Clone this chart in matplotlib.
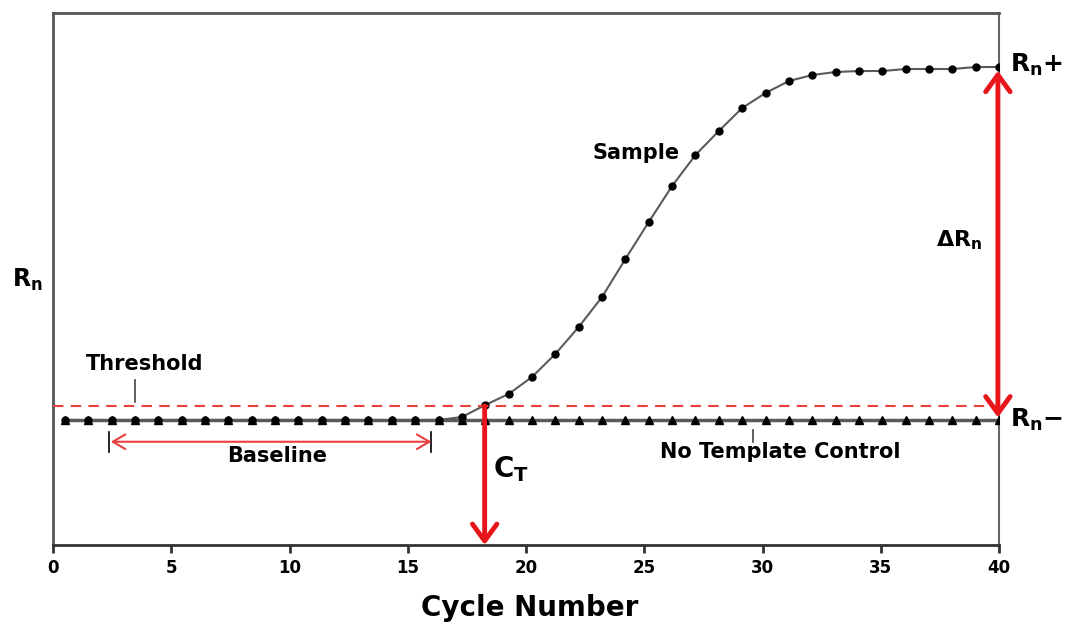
import numpy as np
import matplotlib
matplotlib.use("Agg")
import matplotlib.pyplot as plt

plt.rcParams['font.family'] = ['DejaVu Sans']
plt.rcParams['font.weight'] = 'bold'
plt.rcParams['mathtext.fontset'] = 'custom'
plt.rcParams['mathtext.rm'] = 'DejaVu Sans:bold'
plt.rcParams['mathtext.it'] = 'DejaVu Sans:bold'
plt.rcParams['mathtext.bf'] = 'DejaVu Sans:bold'

# cycle numbers 0..40
cycles = np.arange(41)
# sample fluorescence (arbitrary units, baseline = 1)
sample = [1.0, 1.0, 1.0, 1.0, 1.0, 1.0, 1.0, 1.0, 1.0, 1.0,
          1.0, 1.0, 1.0, 1.0, 1.0, 1.0, 1.0, 1.024, 1.12, 1.208,
          1.344, 1.528, 1.744, 1.984, 2.288, 2.584, 2.872, 3.12, 3.312, 3.496,
          3.616, 3.712, 3.76, 3.784, 3.792, 3.792, 3.808, 3.808, 3.808, 3.824,
          3.824]
# no template control stays flat at baseline
ntc = [1.0] * 41
threshold = 1.112
ct = 18.25
rn_minus = 1.0
rn_plus = 3.824

red = '#e8161b'
line_grey = '#5a5a5a'

fig = plt.figure(figsize=(10.65, 6.26), dpi=100)
ax = fig.add_axes([0.0498, 0.1294, 0.8883, 0.8498])

# markers in the drawing sit half a cycle in from the left edge
xpos = 0.5 + cycles * 39.5 / 40

ax.plot(xpos, ntc, color=line_grey, lw=2.5, marker='^', ms=6,
        mfc='black', mec='black', zorder=3)
ax.plot(xpos, sample, color=line_grey, lw=1.5, marker='o', ms=5,
        mfc='black', mec='black', zorder=4)

ax.axhline(threshold, color='#e8403a', lw=1.5, ls=(0, (5, 3.5)), zorder=5)

# threshold label and pointer
ax.text(3.86, 1.448, 'Threshold', fontsize=15, ha='center', va='center')
ax.plot([3.47, 3.47], [1.144, 1.32], color='#444444', lw=1.2)

# baseline range
ax.annotate('', xy=(2.44, 0.826), xytext=(16.0, 0.826),
            arrowprops=dict(arrowstyle='<->,head_length=0.6,head_width=0.35',
                            color='#e84040', lw=1.5, mutation_scale=15,
                            shrinkA=0, shrinkB=0))
for bx in [2.37, 16.0]:
    ax.plot([bx, bx], [0.744, 0.904], color='black', lw=1.2)
ax.text(9.49, 0.712, 'Baseline', fontsize=15, ha='center', va='center')

ax.text(30.76, 0.744, 'No Template Control', fontsize=15, ha='center', va='center')
ax.plot([29.58, 29.58], [0.824, 0.92], color='#444444', lw=1.2)

ax.text(24.66, 3.14, 'Sample', fontsize=15, ha='center', va='center')

# C_T arrow down to the axis
ax.annotate('', xy=(ct, 0.0), xytext=(ct, threshold),
            arrowprops=dict(arrowstyle='->,head_length=0.55,head_width=0.4',
                            color=red, lw=3.5, mutation_scale=22,
                            shrinkA=0, shrinkB=0), zorder=6)
ax.text(18.6, 0.61, r'C$_\mathregular{T}$', fontsize=20, ha='left', va='center')

# delta Rn arrow
ax.annotate('', xy=(39.95, rn_plus - 0.03), xytext=(39.95, rn_minus + 0.02),
            arrowprops=dict(arrowstyle='<->,head_length=0.55,head_width=0.4',
                            color=red, lw=3.5, mutation_scale=22,
                            shrinkA=0, shrinkB=0), zorder=6, annotation_clip=False)
ax.text(38.3, 2.44, r'$\Delta$R$_\mathregular{n}$', fontsize=16, ha='center', va='center')

ax.text(40.45, rn_plus + 0.02, r'R$_\mathregular{n}$+', fontsize=18, ha='left',
        va='center', clip_on=False)
ax.text(40.45, rn_minus, r'R$_\mathregular{n}$−', fontsize=18, ha='left',
        va='center', clip_on=False)
ax.text(-1.1, 2.12, r'R$_\mathregular{n}$', fontsize=17, ha='center',
        va='center', clip_on=False)

ax.set_xlim(0, 40)
ax.set_ylim(0, 4.256)
ax.set_xticks(range(0, 41, 5))
ax.set_yticks([])
ax.tick_params(axis='x', direction='out', length=6, width=2, color='#333333',
               labelsize=12, pad=4)
for lab in ax.get_xticklabels():
    lab.set_fontweight('bold')

ax.spines['top'].set_color('#555555')
ax.spines['top'].set_linewidth(2)
ax.spines['left'].set_color('#555555')
ax.spines['left'].set_linewidth(2)
ax.spines['right'].set_color('#666666')
ax.spines['right'].set_linewidth(1.5)
ax.spines['bottom'].set_color('#333333')
ax.spines['bottom'].set_linewidth(2)

fig.text(0.4977, 0.029, 'Cycle Number', fontsize=20, ha='center', va='center')

fig.savefig('out.png', dpi=100)
